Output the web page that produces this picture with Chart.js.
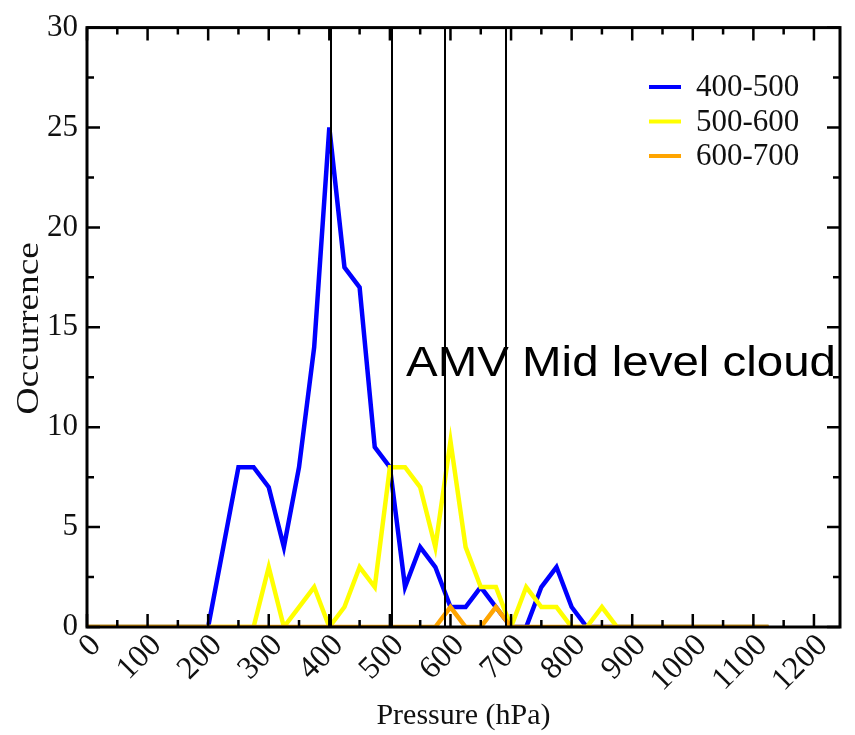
<!DOCTYPE html>
<html>
<head>
<meta charset="utf-8">
<script src="https://cdn.jsdelivr.net/npm/chart.js@4/dist/chart.umd.min.js"></script>
<style>
  html, body { margin: 0; padding: 0; background: #ffffff; }
  #wrap { width: 855px; height: 735px; position: relative; }
</style>
</head>
<body>
<div id="wrap"><canvas id="c" width="855" height="735"></canvas></div>
<script>
// Pressure bins (hPa)
const pressure = [
  0, 25, 50, 75, 100, 125, 150, 175, 200, 225,
  250, 275, 300, 325, 350, 375, 400, 425, 450, 475,
  500, 525, 550, 575, 600, 625, 650, 675, 700, 725,
  750, 775, 800, 825, 850, 875, 900, 925, 950, 975,
  1000, 1025, 1050, 1075, 1100, 1125
];

// Occurrence counts per layer
const layer400_500 = [
  0, 0, 0, 0, 0, 0, 0, 0, 0, 4,
  8, 8, 7, 4, 8, 14, 25, 18, 17, 9,
  8, 2, 4, 3, 1, 1, 2, 1, 0, 0,
  2, 3, 1, 0, 0, 0, 0, 0, 0, 0,
  0, 0, 0, 0, 0, 0
];
const layer500_600 = [
  0, 0, 0, 0, 0, 0, 0, 0, 0, 0,
  0, 0, 3, 0, 1, 2, 0, 1, 3, 2,
  8, 8, 7, 4, 9.3, 4, 2, 2, 0, 2,
  1, 1, 0, 0, 1, 0, 0, 0, 0, 0,
  0, 0, 0, 0, 0, 0
];
const layer600_700 = [
  0, 0, 0, 0, 0, 0, 0, 0, 0, 0,
  0, 0, 0, 0, 0, 0, 0, 0, 0, 0,
  0, 0, 0, 0, 1, 0, 0, 1, 0, 0,
  0, 0, 0, 0, 0, 0, 0, 0, 0, 0,
  0, 0, 0, 0, 0, 0
];

const seriesNames = ['400-500', '500-600', '600-700'];
const seriesColors = ['#0000ff', '#ffff00', '#ffa500'];

// Axis ticks
const xTicks = [0, 50, 100, 150, 200, 250, 300, 350, 400, 450, 500, 550, 600,
                650, 700, 750, 800, 850, 900, 950, 1000, 1050, 1100, 1150, 1200];
const yTicks = [0, 2.5, 5, 7.5, 10, 12.5, 15, 17.5, 20, 22.5, 25, 27.5, 30];

// Layer boundaries marked with vertical lines (hPa)
const layerBounds = [403, 504, 591, 691];

const annotationText = 'AMV Mid level cloud';
const yTitle = 'Occurrence';

const SERIF = '"Liberation Serif", "DejaVu Serif", serif';
const SANS = '"Liberation Sans", Arial, sans-serif';

function toPoints(values) {
  return values.map((v, i) => ({ x: pressure[i], y: v }));
}

const framePlugin = {
  id: 'frameAndMarks',
  afterDatasetsDraw(chart) {
    const { ctx, chartArea: a, scales: { x, y } } = chart;
    ctx.save();

    // layer boundary lines
    ctx.strokeStyle = '#000';
    ctx.lineWidth = 2;
    layerBounds.forEach(v => {
      const px = Math.round(x.getPixelForValue(v));
      ctx.beginPath();
      ctx.moveTo(px, a.top);
      ctx.lineTo(px, a.bottom);
      ctx.stroke();
    });

    // frame
    ctx.lineWidth = 3;
    ctx.strokeRect(a.left, a.top, a.right - a.left, a.bottom - a.top);

    // inward ticks on all four sides
    ctx.lineWidth = 2.5;
    xTicks.forEach(v => {
      const px = x.getPixelForValue(v);
      const len = v % 100 === 0 ? 13 : 7;
      ctx.beginPath();
      ctx.moveTo(px, a.bottom); ctx.lineTo(px, a.bottom - len);
      ctx.moveTo(px, a.top); ctx.lineTo(px, a.top + len);
      ctx.stroke();
    });
    yTicks.forEach(v => {
      const py = y.getPixelForValue(v);
      const len = v % 5 === 0 ? 13 : 7;
      ctx.beginPath();
      ctx.moveTo(a.left, py); ctx.lineTo(a.left + len, py);
      ctx.moveTo(a.right, py); ctx.lineTo(a.right - len, py);
      ctx.stroke();
    });
    ctx.restore();
  },
  afterDraw(chart) {
    const { ctx, chartArea: a } = chart;
    ctx.save();

    // y-axis title, tall serif lettering
    ctx.save();
    ctx.font = '32px ' + SERIF;
    ctx.fillStyle = '#111';
    ctx.textAlign = 'center';
    ctx.textBaseline = 'middle';
    ctx.translate(30, (a.top + a.bottom) / 2 + 1);
    ctx.rotate(-Math.PI / 2);
    ctx.scale(1.17, 1);
    ctx.fillText(yTitle, 0, 0);
    ctx.restore();

    // legend in the upper right of the plot
    ctx.font = '31px ' + SERIF;
    ctx.textBaseline = 'middle';
    ctx.textAlign = 'left';
    chart.data.datasets.forEach((ds, i) => {
      const yy = 87 + i * 34.5;
      ctx.strokeStyle = ds.borderColor;
      ctx.lineWidth = 4;
      ctx.beginPath();
      ctx.moveTo(649, yy); ctx.lineTo(681, yy);
      ctx.stroke();
      ctx.fillStyle = '#111';
      ctx.fillText(ds.label, 696, yy + 1);
    });

    // annotation text
    ctx.font = '43px ' + SANS;
    ctx.textBaseline = 'alphabetic';
    ctx.fillStyle = '#000';
    const w = ctx.measureText(annotationText).width;
    ctx.translate(406, 376);
    ctx.scale(430 / w, 1);
    ctx.fillText(annotationText, 0, 0);
    ctx.restore();
  }
};

new Chart(document.getElementById('c'), {
  type: 'line',
  data: {
    datasets: [
      { label: seriesNames[0], data: toPoints(layer400_500), borderColor: seriesColors[0], order: 2 },
      { label: seriesNames[1], data: toPoints(layer500_600), borderColor: seriesColors[1], order: 1 },
      { label: seriesNames[2], data: toPoints(layer600_700), borderColor: seriesColors[2], order: 0 }
    ].map(d => Object.assign(d, {
      borderWidth: 4.5, pointRadius: 0, tension: 0, fill: false,
      borderJoinStyle: 'miter', borderCapStyle: 'butt'
    }))
  },
  options: {
    responsive: false,
    animation: false,
    devicePixelRatio: 1,
    layout: { padding: { left: 0, right: 15, top: 22, bottom: 0 } },
    plugins: { legend: { display: false }, tooltip: { enabled: false } },
    scales: {
      x: {
        type: 'linear',
        min: 0,
        max: 1243,
        afterBuildTicks: s => { s.ticks = xTicks.map(v => ({ value: v })); },
        afterFit: s => { s.height = 108; },
        grid: { display: false, drawTicks: false },
        border: { display: false },
        ticks: {
          autoSkip: false,
          minRotation: 45,
          maxRotation: 45,
          padding: 0,
          labelOffset: 9,
          color: '#111',
          font: { family: SERIF, size: 32 },
          callback: v => (v % 100 === 0 ? String(v) : '')
        },
        title: {
          display: true,
          text: 'Pressure (hPa)',
          color: '#111',
          font: { family: SERIF, size: 30 },
          padding: { top: 0, bottom: 1 }
        }
      },
      y: {
        min: 0,
        max: 30,
        afterBuildTicks: s => { s.ticks = yTicks.map(v => ({ value: v })); },
        afterFit: s => { s.width = 87; },
        grid: { display: false, drawTicks: false },
        border: { display: false },
        ticks: {
          autoSkip: false,
          padding: 9,
          color: '#111',
          font: { family: SERIF, size: 31 },
          callback: v => (v % 5 === 0 ? String(v) : '')
        },
        title: { display: false }
      }
    }
  },
  plugins: [framePlugin]
});
</script>
</body>
</html>
